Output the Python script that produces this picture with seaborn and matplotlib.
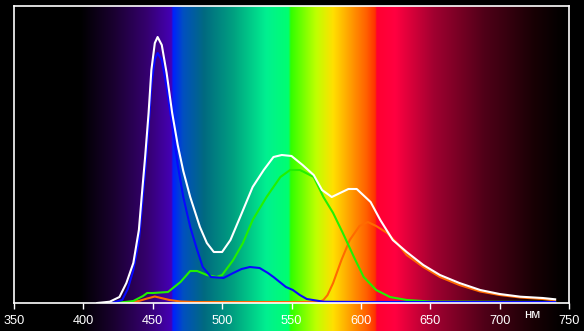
import numpy as np
import pandas as pd
import matplotlib
matplotlib.use("Agg")
import matplotlib.pyplot as plt
import seaborn as sns

# ---- data (wavelength, nm; intensity, arbitrary units) ----
wl_white = [410, 419, 426, 431, 436, 440, 442, 444.5, 447, 449, 451.5, 453.5, 456.5, 460, 464, 468,
            472, 477, 484, 489, 494, 500, 506, 513, 522, 530, 537, 543, 550, 558, 566, 572, 579,
            585, 591, 597, 607, 614, 623, 633, 645, 657, 671, 686, 700, 715, 731, 740]
val_white = [0, 1.3, 6, 20, 40, 73, 106, 146, 190, 233, 260, 266, 258, 230, 190, 158,
             132, 106, 76, 60, 51, 51, 63, 86, 116, 133, 146, 148, 147, 138, 128, 113, 106,
             110, 114, 114, 101, 83, 63, 51, 38, 28, 20, 13, 9, 6.3, 5, 3.7]

wl_blue = [420, 428, 432, 436, 440, 442, 444.5, 447, 449, 451.5, 453.5, 456.5, 460, 464, 468, 472,
           477, 482, 486, 492, 501, 508, 514, 520, 527, 533, 537, 546, 551, 556, 561, 573, 600, 740]
val_blue = [0, 3, 14, 33, 62, 93, 132, 176, 218, 244, 250, 243, 216, 178, 138, 106,
            76, 53, 36, 26, 25, 30, 34, 36, 35, 30, 26, 16, 13, 8, 4, 1.3, 1, 1]

wl_green = [420, 430, 436, 443, 446, 450, 461, 470, 477, 482, 489, 496, 500, 508, 515, 522, 532,
            542, 549, 556, 559, 566, 573, 580, 587, 595, 602, 611, 621, 633, 650, 740]
val_green = [0, 1, 2, 7, 10, 10, 11, 21, 32, 32, 28, 26, 28, 43, 60, 83, 106,
             126, 133, 133, 131, 126, 106, 90, 70, 46, 26, 13, 6, 3, 1.5, 1]

wl_red = [430, 440, 446, 451.5, 456, 462, 470, 480, 570, 573, 576, 580, 586, 592, 599, 605, 611,
          619, 626, 633, 645, 657, 671, 686, 700, 715, 731, 740]
val_red = [0, 2, 4.5, 6.5, 5, 3, 1.5, 1, 1, 3, 8, 20, 43, 63, 77, 81, 77,
           70, 60, 48, 36, 26, 18, 11.5, 8, 5.5, 4, 2.5]

x_ticks = [350, 400, 450, 500, 550, 600, 650, 700, 750]
unit_label = "нм"

# ---- spectrum background colour stops (style) ----
stops = [(350, "#000000"), (398, "#000000"), (422, "#1a0030"), (446, "#35006f"),
         (463.5, "#4500b5"), (464.5, "#0020ff"), (472, "#0050c0"), (487, "#006a80"),
         (508, "#00a080"), (532, "#00f090"), (548, "#00ff70"), (549.5, "#30ff00"),
         (568, "#c0ff00"), (580, "#ffe000"), (592, "#ffa000"), (604, "#ff6000"),
         (610.5, "#ff3000"), (611.5, "#ff0030"), (625, "#ff0040"), (653, "#a00030"),
         (689, "#500018"), (725, "#180004"), (747, "#000000"), (750, "#000000")]

W, H = 584, 331
fig = plt.figure(figsize=(W / 100, H / 100), dpi=100, facecolor="black")

left, right, top, bottom = 14, 569, 6, 303

# background gradient axes
bg = fig.add_axes([left / W, 0, (right - left) / W, (H - top) / H], zorder=0)
nm = np.linspace(350, 750, 1600)
sx = [s[0] for s in stops]
rgb = np.array([matplotlib.colors.to_rgb(s[1]) for s in stops])
grad = np.stack([np.interp(nm, sx, rgb[:, i]) for i in range(3)], axis=-1)
bg.imshow(grad[np.newaxis, :, :], aspect="auto", extent=[350, 750, 0, 1], interpolation="bilinear")
bg.set_axis_off()

ax = fig.add_axes([left / W, (H - bottom) / H, (right - left) / W, (bottom - top) / H], zorder=1)
ax.patch.set_alpha(0)

lw = 1.5
series = [
    (wl_red, val_red, "#ff6a00"),
    (wl_green, val_green, "#22f000"),
    (wl_blue, val_blue, "#0808ff"),
    (wl_white, val_white, "#ffffff"),
]
for wl, val, col in series:
    df = pd.DataFrame({"nm": wl, "v": val})
    sns.lineplot(data=df, x="nm", y="v", ax=ax, color=col, linewidth=lw, estimator=None, sort=False)

ax.set_xlim(350, 750)
ax.set_ylim(0, bottom - top)
ax.set_xticks(x_ticks)
ax.set_xticklabels([str(t) for t in x_ticks], family="Liberation Sans", fontsize=9.2, color="white")
ax.set_yticks([])
ax.set_xlabel("")
ax.set_ylabel("")
ax.tick_params(axis="x", direction="out", length=4, width=1, color="white", pad=5)
for s in ax.spines.values():
    s.set_color("white")
    s.set_linewidth(1.2)

ax.annotate(unit_label, xy=(723.5, -0.04), xycoords=("data", "axes fraction"),
            ha="center", va="center", color="white", fontsize=9.5, family="Liberation Sans")

fig.savefig("out.png", dpi=100, facecolor="black")
